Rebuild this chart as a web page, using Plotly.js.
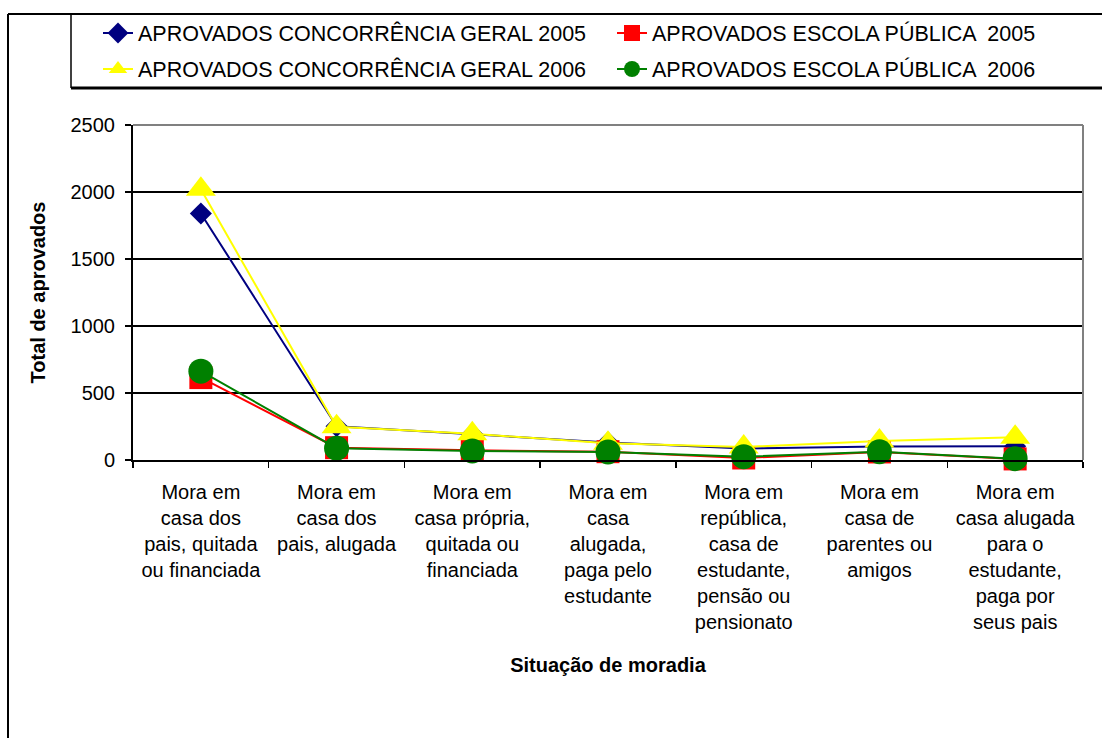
<!DOCTYPE html>
<html>
<head>
<meta charset="utf-8">
<script src="https://cdn.plot.ly/plotly-3.0.1.min.js"></script>
<style>
  html, body { margin: 0; padding: 0; background: #ffffff; }
  #chart { width: 1102px; height: 738px; }
</style>
</head>
<body>
<div id="chart"></div>
<script>
// ---------- data ----------
const categories = ["c1", "c2", "c3", "c4", "c5", "c6", "c7"];
const categoryLabelLines = [
  ["Mora em", "casa dos", "pais, quitada", "ou financiada"],
  ["Mora em", "casa dos", "pais, alugada"],
  ["Mora em", "casa própria,", "quitada ou", "financiada"],
  ["Mora em", "casa", "alugada,", "paga pelo", "estudante"],
  ["Mora em", "república,", "casa de", "estudante,", "pensão ou", "pensionato"],
  ["Mora em", "casa de", "parentes ou", "amigos"],
  ["Mora em", "casa alugada", "para o", "estudante,", "paga por", "seus pais"]
];
const seriesNames = [
  "APROVADOS CONCORRÊNCIA GERAL 2005",
  "APROVADOS ESCOLA PÚBLICA  2005",
  "APROVADOS CONCORRÊNCIA GERAL 2006",
  "APROVADOS ESCOLA PÚBLICA  2006"
];
const geral2005   = [1840, 252, 192, 130, 85, 100, 102];
const publica2005 = [615, 92, 72, 62, 15, 60, 8];
const geral2006   = [2020, 248, 196, 125, 97, 142, 170];
const publica2006 = [663, 88, 67, 60, 25, 62, 10];
const yTickValues = [0, 500, 1000, 1500, 2000, 2500];
const xAxisTitle = "Situação de moradia";
const yAxisTitle = "Total de aprovados";

// ---------- layout geometry (pixels) ----------
const W = 1102, H = 738;
const plotL = 133, plotR = 1083, plotT = 125, plotB = 460;
const pw = plotR - plotL, ph = plotB - plotT;
const px = v => (v - plotL) / pw;
const py = v => (plotB - v) / ph;
const cx = v => v / W;
const cy = v => 1 - v / H;

const FONT = "Liberation Sans, Arial, sans-serif";

function mk(name, y, color, symbol, size, legendId) {
  return {
    type: "scatter", mode: "lines+markers", name: name,
    x: categories, y: y,
    line: { color: color, width: 2 },
    marker: { color: color, symbol: symbol, size: size, line: { width: 0 } },
    legend: legendId,
    cliponaxis: false
  };
}

const traces = [
  mk(seriesNames[0], geral2005, "#000080", "diamond", 17, "legend"),
  mk(seriesNames[1], publica2005, "#FF0000", "square", 23, "legend2"),
  mk(seriesNames[2], geral2006, "#FFFF00", "triangle-up", 26, "legend3"),
  mk(seriesNames[3], publica2006, "#008000", "circle", 25, "legend4")
];

function leg(xPix, yPix) {
  return {
    orientation: "h",
    xref: "container", yref: "container",
    x: cx(xPix), y: cy(yPix),
    xanchor: "left", yanchor: "middle",
    bgcolor: "rgba(0,0,0,0)", borderwidth: 0,
    font: { family: FONT, size: 21.5, color: "#000" },
    itemclick: false, itemdoubleclick: false
  };
}

const layout = {
  width: W, height: H,
  margin: { l: plotL, r: W - plotR, t: plotT, b: H - plotB, pad: 0, autoexpand: false },
  paper_bgcolor: "#ffffff", plot_bgcolor: "#ffffff",
  font: { family: FONT, size: 20, color: "#000" },
  showlegend: true,
  legend: leg(98, 33),
  legend2: leg(612, 33),
  legend3: leg(98, 69),
  legend4: leg(612, 69),
  xaxis: {
    type: "category",
    range: [-0.5, 6.5],
    tickmode: "array",
    tickvals: categories,
    ticktext: categoryLabelLines.map(l => l.join("<br>")),
    tickson: "boundaries",
    ticks: "outside", ticklen: 6, tickwidth: 1.5, tickcolor: "#000",
    ticklabelstandoff: 13,
    tickfont: { family: FONT, size: 20, color: "#000" },
    showline: true, linecolor: "#000", linewidth: 2,
    showgrid: false, zeroline: false,
    automargin: false,
    title: { text: xAxisTitle, font: { family: FONT, size: 20, color: "#000", weight: "bold" }, standoff: 26 }
  },
  yaxis: {
    range: [0, 2500],
    tickmode: "array", tickvals: yTickValues,
    ticks: "outside", ticklen: 6, tickwidth: 1.5, tickcolor: "#000",
    ticklabelstandoff: 6,
    tickfont: { family: FONT, size: 20, color: "#000" },
    showline: true, linecolor: "#000", linewidth: 2,
    showgrid: true, gridcolor: "#000", gridwidth: 1.5,
    zeroline: false,
    automargin: false,
    title: { text: yAxisTitle, font: { family: FONT, size: 20, color: "#000", weight: "bold" }, standoff: 20 }
  },
  shapes: [
    { type: "line", xref: "paper", yref: "paper", x0: 0, x1: 1, y0: 1, y1: 1, line: { color: "#808080", width: 2 }, layer: "below" },
    { type: "line", xref: "paper", yref: "paper", x0: 1, x1: 1, y0: 0, y1: 1, line: { color: "#808080", width: 2 } },
    { type: "line", xref: "paper", yref: "paper", x0: px(8), x1: px(W + 5), y0: py(14), y1: py(14), line: { color: "#000", width: 2 } },
    { type: "line", xref: "paper", yref: "paper", x0: px(8), x1: px(8), y0: py(14), y1: py(H + 5), line: { color: "#000", width: 2 } },
    { type: "line", xref: "paper", yref: "paper", x0: px(71), x1: px(71), y0: py(14), y1: py(88), line: { color: "#000", width: 1.5 } },
    { type: "line", xref: "paper", yref: "paper", x0: px(71), x1: px(W + 5), y0: py(88), y1: py(88), line: { color: "#000", width: 3 } }
  ]
};

Plotly.newPlot("chart", traces, layout, { staticPlot: true, displayModeBar: false });
</script>
</body>
</html>
